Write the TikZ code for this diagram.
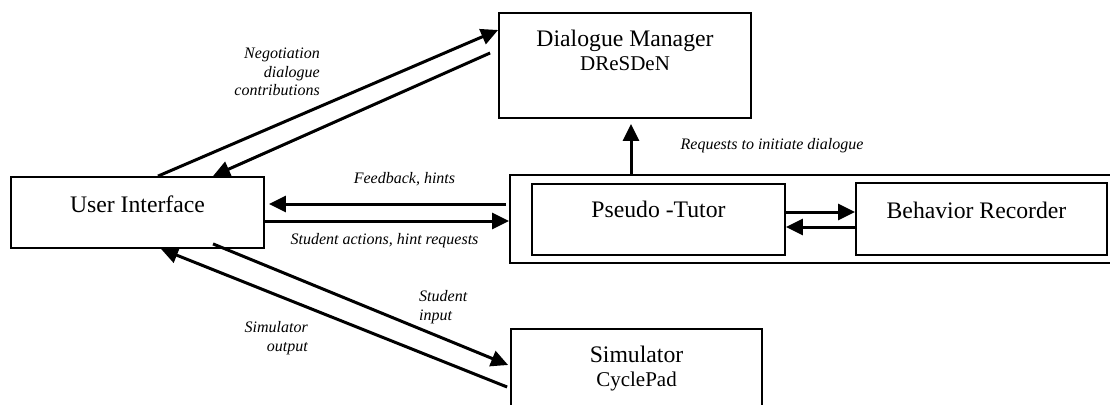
\documentclass[tikz,border=0pt]{standalone}
\usepackage{fontspec}
\setmainfont{Liberation Serif}
\usetikzlibrary{arrows.meta,positioning}
\newcommand{\subfont}{\fontsize{21}{24}\selectfont}

\begin{document}
\begin{tikzpicture}[
    x = 1pt, y = -1pt,
    >= {Triangle[length = 17pt, width = 16pt]},
    box/.style = {draw, line width = 1.8pt, inner sep = 0pt},
    boxtext/.style = {inner sep = 0pt, align = center, font = \fontsize{23.7}{24}\selectfont},
    flow/.style = {inner sep = 0pt, font = \fontsize{16}{18.5}\selectfont\itshape}
]
\useasboundingbox (0,0) rectangle (1110,404);
\node[box, minimum width = 252pt, minimum height = 105pt] (dm) at (625,65.5) {};
\node[box, minimum width = 253pt, minimum height = 71pt] (ui) at (137.5,212.5) {};
\node[box, minimum width = 606pt, minimum height = 88pt] (tutor) at (813,219) {};
\node[box, minimum width = 253pt, minimum height = 71pt] (pt) at (658.5,219.5) {};
\node[box, minimum width = 251pt, minimum height = 72pt] (br) at (981.5,219) {};
\node[box, minimum width = 251pt, minimum height = 105pt] (sim) at (636.5,381.5) {};
% box texts
\node[boxtext, below = 18pt of dm.north] (dmtext) {Dialogue Manager\\{\subfont DReSDeN}};
\node[boxtext, below = 19.5pt of ui.north] (uitext) {User Interface};
\node[boxtext, below = 17.5pt of pt.north] (pttext) {Pseudo -Tutor};
\node[boxtext, below = 19.5pt of br.north, xshift = -5pt] (brtext) {Behavior Recorder};
\node[boxtext, below = 18pt of sim.north] (simtext) {Simulator\\{\subfont CyclePad}};
% arrows
\path[->, line width = 3pt]
([xshift = 20.5pt]ui.north) edge ([yshift = 35.5pt]dm.west)
([xshift = -8pt, yshift = 12.5pt]dm.west) edge ([xshift = 75.5pt]ui.north)
([xshift = -3pt, yshift = 15pt]tutor.west) edge ([xshift = 4pt, yshift = 8.5pt]ui.east)
([yshift = -8.5pt]ui.east) edge ([yshift = -2pt]tutor.west)
([xshift = 6pt]dm.south |- tutor.north) edge ([xshift = 6pt, yshift = -5pt]dm.south)
([yshift = 7.5pt]pt.east) edge ([yshift = 7pt]br.west)
([yshift = -8pt]br.west) edge ([yshift = -7.5pt]pt.east)
([xshift = 75.5pt, yshift = 5pt]ui.south) edge ([xshift = -2pt, yshift = 16.5pt]sim.west)
([xshift = -3pt, yshift = -5.5pt]sim.west) edge ([xshift = 23.5pt]ui.south)
;
% arrow labels
\node[flow, align = right, anchor = east] (negotiation) at (320,72) {Negotiation\\dialogue\\contributions};
\node[flow] (feedback) at (404.5,179) {Feedback, hints};
\node[flow] (actions) at (384.5,241) {Student actions, hint requests};
\node[flow] (requests) at (772,146) {Requests to initiate dialogue};
\node[flow, align = left, anchor = west] (input) at (419,307) {Student\\input};
\node[flow, align = right, anchor = east] (output) at (308,338) {Simulator\\output};

\end{tikzpicture}
\end{document}
